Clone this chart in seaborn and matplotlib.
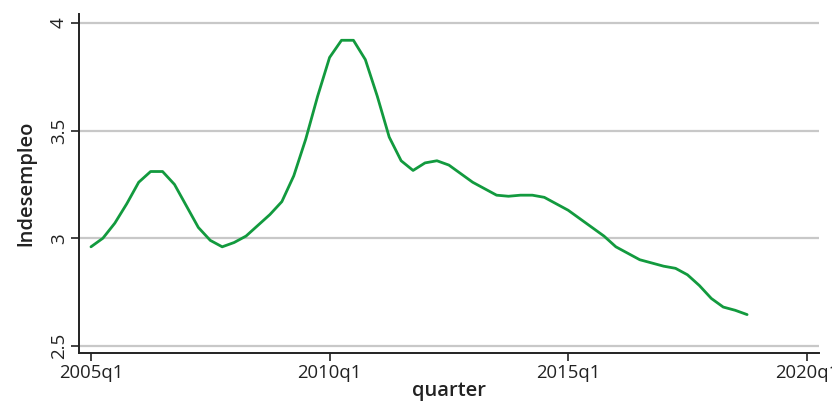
import numpy as np
import pandas as pd
import seaborn as sns
import matplotlib.pyplot as plt

# quarterly values, 2005q1 .. 2018q4
lndesempleo = [2.96, 3.00, 3.07, 3.16, 3.26, 3.31, 3.31, 3.25, 3.15, 3.05,
               2.99, 2.96, 2.98, 3.01, 3.06, 3.11, 3.17, 3.29, 3.46, 3.66,
               3.84, 3.92, 3.92, 3.83, 3.66, 3.47, 3.36, 3.315, 3.35, 3.36,
               3.34, 3.30, 3.26, 3.23, 3.20, 3.195, 3.20, 3.20, 3.19, 3.16,
               3.13, 3.09, 3.05, 3.01, 2.96, 2.93, 2.90, 2.885, 2.87, 2.86,
               2.83, 2.78, 2.72, 2.68, 2.665, 2.645]
quarter = list(range(len(lndesempleo)))  # 0 = 2005q1
tick_pos = [0, 20, 40, 60]
tick_labels = ['2005q1', '2010q1', '2015q1', '2020q1']
y_ticks = [2.5, 3, 3.5, 4]
y_labels = ['2.5', '3', '3.5', '4']

df = pd.DataFrame({'quarter': quarter, 'lndesempleo': lndesempleo})

sns.set_style('white')
plt.rcParams['font.family'] = ['Open Sans', 'DejaVu Sans']

fig = plt.figure(figsize=(8.32, 4.01), dpi=100)
ax = fig.add_axes([0.095, 0.120, 0.889, 0.845])

for y in y_ticks:
    ax.axhline(y, color='#c8c8c8', linewidth=1.6, zorder=0)

sns.lineplot(data=df, x='quarter', y='lndesempleo', ax=ax,
             color='#129a3e', linewidth=2.0)

ax.set_xlim(-1, 61)
ax.set_ylim(2.467, 4.042)
ax.set_xticks(tick_pos)
ax.set_xticklabels(tick_labels, fontsize=13.3, color='#222222')
ax.set_yticks(y_ticks)
ax.set_yticklabels(y_labels, fontsize=13.5, rotation=90, va='center',
                   color='#222222')
ax.tick_params(axis='both', direction='out', length=6, width=1.2,
               color='#222222', left=True, bottom=True, pad=2)

for side in ['top', 'right']:
    ax.spines[side].set_visible(False)
for side in ['left', 'bottom']:
    ax.spines[side].set_color('#222222')
    ax.spines[side].set_linewidth(1.4)

ax.set_xlabel('quarter', fontsize=14.5, fontweight='semibold',
              color='#222222', labelpad=-1)
ax.set_ylabel('lndesempleo', fontsize=14.5, fontweight='semibold',
              color='#222222', labelpad=10)

fig.savefig('out.png', dpi=100)
